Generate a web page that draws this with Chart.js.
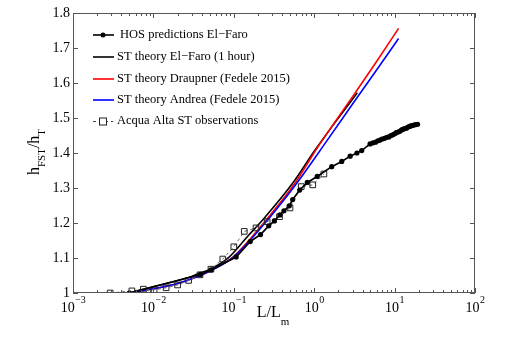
<!DOCTYPE html>
<html lang="en">
<head>
  <meta charset="UTF-8">
  <title>h_FST/h_T vs L/L_m</title>
  <script src="https://cdn.jsdelivr.net/npm/chart.js"></script>
  <style>
    html, body { margin: 0; padding: 0; background: #fff; }
    #wrap { width: 529px; height: 343px; }
  </style>
</head>
<body>
<div id="wrap"><canvas id="chart" width="529" height="343"></canvas></div>

<script>
  // HOS predictions El-Faro
  const hosL = [0.005, 0.0385, 0.052, 0.107, 0.16, 0.215, 0.272, 0.32, 0.375, 0.42, 0.49, 0.54,
    0.66, 0.82, 1.09, 1.65, 2.2, 2.8, 3.4, 3.9, 4.95, 5.4, 5.8, 6.2, 6.6, 7.0, 7.5, 8.0, 8.5,
    9.0, 9.5, 10, 10.5, 11, 11.6, 12.2, 12.8, 13.4, 14, 14.7, 15.4, 16.2, 17, 18, 19.3];
  const hosH = [1.0, 1.053, 1.066, 1.103, 1.147, 1.167, 1.192, 1.206, 1.223, 1.235, 1.249, 1.267,
    1.294, 1.316, 1.333, 1.361, 1.376, 1.391, 1.400, 1.407, 1.426, 1.429, 1.431, 1.435, 1.437,
    1.440, 1.442, 1.445, 1.446, 1.450, 1.452, 1.455, 1.458, 1.460, 1.462, 1.466, 1.468, 1.470,
    1.471, 1.474, 1.476, 1.478, 1.479, 1.481, 1.482];

  // ST theory El-Faro (1 hour)
  const faroL = [0.005, 0.01, 0.0274, 0.038, 0.051, 0.083, 0.15, 0.243, 0.533, 1.0, 2.0, 3.44];
  const faroH = [1.0, 1.018, 1.044, 1.057, 1.068, 1.098, 1.163, 1.216, 1.312, 1.405, 1.500, 1.572];

  // ST theory Draupner (Fedele 2015)
  const draupL = [0.005, 0.01, 0.02, 0.038, 0.052, 0.1, 0.268, 0.57, 1.04, 1.26, 3, 6, 11.2];
  const draupH = [1.0, 1.012, 1.027, 1.05, 1.064, 1.105, 1.216, 1.312, 1.407, 1.436, 1.561, 1.662, 1.756];

  // ST theory Andrea (Fedele 2015)
  const andreaL = [0.005, 0.01, 0.02, 0.038, 0.052, 0.1, 0.28, 0.6, 1.45, 3, 6, 11.2];
  const andreaH = [1.0, 1.012, 1.027, 1.05, 1.064, 1.103, 1.216, 1.312, 1.436, 1.54, 1.638, 1.727];

  // Acqua Alta ST observations
  const obsL = [0.0029, 0.0054, 0.0075, 0.0102, 0.0144, 0.020, 0.0274, 0.038, 0.052, 0.073,
    0.10, 0.135, 0.189, 0.26, 0.37, 0.50, 0.69, 0.96, 1.32];
  const obsH = [1.0, 1.006, 1.011, 1.009, 1.015, 1.023, 1.036, 1.052, 1.068, 1.097,
    1.132, 1.176, 1.186, 1.204, 1.218, 1.243, 1.304, 1.309, 1.34];

  const yTicks = [1, 1.1, 1.2, 1.3, 1.4, 1.5, 1.6, 1.7, 1.8];
  const xExps = [-3, -2, -1, 0, 1, 2];

  const legendItems = [
    { label: 'HOS predictions El\u2212Faro', color: '#000', kind: 'dot' },
    { label: 'ST theory El\u2212Faro (1 hour)', color: '#000', kind: 'line' },
    { label: 'ST theory Draupner (Fedele 2015)', color: '#ff0000', kind: 'line' },
    { label: 'ST theory Andrea (Fedele 2015)', color: '#0000ff', kind: 'line' },
    { label: 'Acqua Alta ST observations', color: '#444', kind: 'square' }
  ];

  const pts = (xs, ys) => xs.map((v, i) => ({ x: v, y: ys[i] }));
  const SERIF = '"Liberation Serif", "DejaVu Serif", serif';

  // axes box, inward ticks, tick labels, titles and legend
  const decor = {
    id: 'decor',
    afterDraw(chart) {
      const { ctx, chartArea: a, scales: { x, y } } = chart;
      ctx.save();
      ctx.strokeStyle = '#555';
      ctx.lineWidth = 1;
      ctx.strokeRect(Math.round(a.left) + 0.5, Math.round(a.top) + 0.5,
        Math.round(a.width) - 1, Math.round(a.height) - 1);

      const seg = (x1, y1, x2, y2) => {
        ctx.beginPath(); ctx.moveTo(x1, y1); ctx.lineTo(x2, y2); ctx.stroke();
      };

      // x ticks (log)
      for (const e of xExps) {
        for (let m = 1; m <= 9; m++) {
          const v = m * Math.pow(10, e);
          if (v > 100) break;
          const px = Math.round(x.getPixelForValue(v)) + 0.5;
          const len = m === 1 ? 5 : 3;
          seg(px, a.bottom, px, a.bottom - len);
          seg(px, a.top, px, a.top + len);
        }
      }
      // y ticks
      for (const t of yTicks) {
        const py = Math.round(y.getPixelForValue(t)) + 0.5;
        seg(a.left, py, a.left + 5, py);
        seg(a.right, py, a.right - 5, py);
      }

      ctx.fillStyle = '#000';
      // y tick labels
      ctx.font = '14px ' + SERIF;
      ctx.textAlign = 'right';
      ctx.textBaseline = 'middle';
      for (const t of yTicks) {
        const txt = t === 1 ? '1' : t.toFixed(1);
        ctx.fillText(txt, a.left - 3, y.getPixelForValue(t));
      }

      // x tick labels 10^e
      ctx.textBaseline = 'alphabetic';
      ctx.textAlign = 'left';
      for (const e of xExps) {
        const px = x.getPixelForValue(Math.pow(10, e));
        const sup = e < 0 ? '\u2212' + (-e) : String(e);
        ctx.font = '14px ' + SERIF;
        const wb = ctx.measureText('10').width;
        ctx.font = '10px ' + SERIF;
        const ws = ctx.measureText(sup).width;
        const x0 = px - (wb + ws) / 2;
        ctx.font = '14px ' + SERIF;
        ctx.fillText('10', x0, 312);
        ctx.font = '10px ' + SERIF;
        ctx.fillText(sup, x0 + wb + 0.5, 303);
      }

      // x title L/L_m
      ctx.font = '16px ' + SERIF;
      const w1 = ctx.measureText('L/L').width;
      ctx.font = '11px ' + SERIF;
      const w2 = ctx.measureText('m').width;
      const tx = 273 - (w1 + w2) / 2;
      ctx.font = '16px ' + SERIF;
      ctx.fillText('L/L', tx, 317);
      ctx.font = '11px ' + SERIF;
      ctx.fillText('m', tx + w1, 325);

      // y title h_FST/h_T
      ctx.save();
      ctx.translate(39, 152);
      ctx.rotate(-Math.PI / 2);
      const parts = [['h', false], ['FST', true], ['/h', false], ['T', true]];
      let total = 0;
      for (const [s, sub] of parts) {
        ctx.font = (sub ? '11px ' : '16px ') + SERIF;
        total += ctx.measureText(s).width;
      }
      let cx = -total / 2;
      for (const [s, sub] of parts) {
        ctx.font = (sub ? '11px ' : '16px ') + SERIF;
        ctx.fillText(s, cx, sub ? 6 : 0);
        cx += ctx.measureText(s).width;
      }
      ctx.restore();

      // legend
      ctx.font = '12.5px ' + SERIF;
      ctx.textBaseline = 'middle';
      const rows = [35, 57, 79, 100, 121];
      legendItems.forEach((it, i) => {
        const ly = rows[i];
        ctx.strokeStyle = it.color;
        if (it.kind === 'square') {
          ctx.lineWidth = 1;
          ctx.setLineDash([3, 3]);
          seg(93, ly + 0.5, 113, ly + 0.5);
          ctx.setLineDash([]);
          ctx.fillStyle = '#fff';
          ctx.fillRect(99.5, ly - 3, 7, 7);
          ctx.strokeStyle = '#222';
          ctx.strokeRect(99.5, ly - 3, 7, 7);
        } else {
          ctx.lineWidth = 1.6;
          seg(93, ly, 114, ly);
          if (it.kind === 'dot') {
            ctx.fillStyle = '#000';
            ctx.beginPath(); ctx.arc(103, ly, 2.5, 0, Math.PI * 2); ctx.fill();
          }
        }
        ctx.fillStyle = '#000';
        ctx.fillText(it.label, it.kind === 'dot' ? 120 : 117, ly);
      });
      ctx.restore();
    }
  };

  const ctx = document.getElementById('chart').getContext('2d');
  const chart = new Chart(ctx, {
    type: 'scatter',
    data: {
      datasets: [
        {
          label: 'HOS predictions El-Faro',
          data: pts(hosL, hosH),
          showLine: true,
          borderColor: '#000',
          backgroundColor: '#000',
          borderWidth: 1.7,
          pointRadius: 2.6,
          pointHoverRadius: 2.6,
          pointBorderWidth: 0,
        },
        {
          label: 'Acqua Alta ST observations',
          data: pts(obsL, obsH),
          showLine: true,
          borderColor: '#666',
          borderWidth: 1,
          borderDash: [3, 3],
          pointStyle: 'rect',
          pointRadius: 4,
          pointBorderColor: '#222',
          pointBackgroundColor: 'rgba(0,0,0,0)',
          pointBorderWidth: 1,
        },
        {
          label: 'ST theory Andrea (Fedele 2015)',
          data: pts(andreaL, andreaH),
          showLine: true,
          borderColor: '#0000ff',
          borderWidth: 1.6,
          pointRadius: 0,
          cubicInterpolationMode: 'monotone',
        },
        {
          label: 'ST theory Draupner (Fedele 2015)',
          data: pts(draupL, draupH),
          showLine: true,
          borderColor: '#ff0000',
          borderWidth: 1.6,
          pointRadius: 0,
          cubicInterpolationMode: 'monotone',
        },
        {
          label: 'ST theory El-Faro (1 hour)',
          data: pts(faroL, faroH),
          showLine: true,
          borderColor: '#000',
          borderWidth: 1.6,
          pointRadius: 0,
          cubicInterpolationMode: 'monotone',
        }
      ]
    },
    options: {
      responsive: false,
      animation: false,
      events: [],
      layout: { padding: { left: 0, right: 54, top: 13, bottom: 0 } },
      scales: {
        x: {
          type: 'logarithmic',
          min: 0.001,
          max: 100,
          grid: { display: false },
          border: { display: false },
          ticks: { display: false },
          afterFit: (s) => { s.height = 50; },
        },
        y: {
          min: 1,
          max: 1.8,
          grid: { display: false },
          border: { display: false },
          ticks: { display: false },
          afterFit: (s) => { s.width = 73; },
        }
      },
      plugins: {
        legend: { display: false },
        tooltip: { enabled: false },
      },
    },
    plugins: [decor],
  });
</script>
</body>
</html>
